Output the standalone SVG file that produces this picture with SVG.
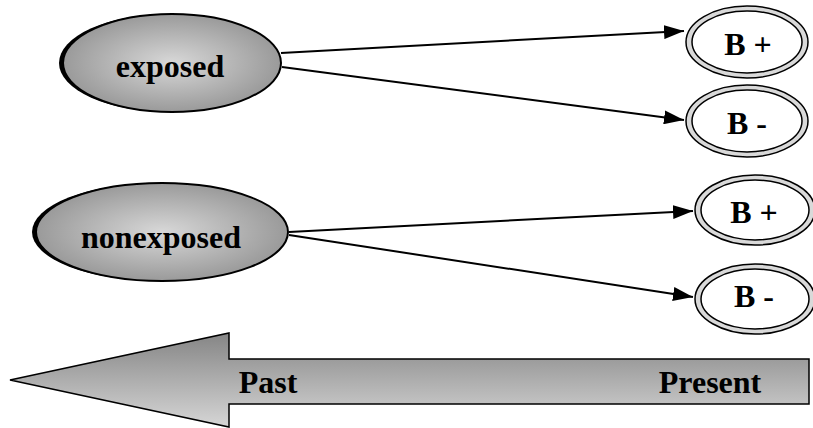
<svg xmlns="http://www.w3.org/2000/svg" width="813" height="428" viewBox="0 0 813 428">
<defs>
<radialGradient id="gEll" cx="50%" cy="50%" r="50%">
<stop offset="0" stop-color="#d8d8d8"/>
<stop offset="1" stop-color="#9a9a9a"/>
</radialGradient>
<linearGradient id="gArr" x1="0" y1="0" x2="0" y2="1">
<stop offset="0" stop-color="#858585"/>
<stop offset="1" stop-color="#d6d6d6"/>
</linearGradient>
<marker id="ah2" viewBox="0 0 20 14" refX="20" refY="7" markerWidth="20" markerHeight="14" markerUnits="userSpaceOnUse" orient="auto">
<path d="M0,0 L20,7 L0,14 z" fill="#000"/>
</marker>
</defs>
<style>
text{font-family:'Liberation Serif','Times New Roman','DejaVu Serif',serif;font-weight:bold;fill:#000;text-anchor:middle;font-size:32px}
.src{fill:url(#gEll);stroke:#000;stroke-width:2}
.shadow{fill:#000}
.outer{fill:#d9d9d9;stroke:#000;stroke-width:1.5}
.inner{fill:#fff;stroke:#000;stroke-width:1.5}
.conn{stroke:#000;stroke-width:2;fill:none;marker-end:url(#ah2)}
</style>
<g id="timeline">
<path d="M10,380 L229,333 L229,359 L809,359 L809,404 L229,404 L229,427 Z" fill="url(#gArr)" stroke="#000" stroke-width="1.5"/>
<text x="268" y="393" font-family="Liberation Serif, serif">Past</text>
<text x="710" y="393" font-family="Liberation Serif, serif">Present</text>
</g>
<g id="connectors">
<line class="conn" x1="281" y1="53" x2="684" y2="31"/>
<line class="conn" x1="282" y1="67" x2="684" y2="120"/>
<line class="conn" x1="289" y1="232" x2="693" y2="211"/>
<line class="conn" x1="289" y1="235" x2="693" y2="297"/>
</g>
<g id="exposed">
<ellipse class="shadow" cx="169" cy="63" rx="110" ry="49"/>
<ellipse class="src" cx="172" cy="63" rx="109" ry="49"/>
<text x="170" y="77" font-family="Liberation Serif, serif">exposed</text>
</g>
<g id="nonexposed">
<ellipse class="shadow" cx="159" cy="232" rx="127" ry="49"/>
<ellipse class="src" cx="162" cy="232" rx="126" ry="49"/>
<text x="161" y="248" font-family="Liberation Serif, serif">nonexposed</text>
</g>
<g id="bplus1">
<ellipse class="outer" cx="747" cy="42" rx="61" ry="36"/>
<ellipse class="inner" cx="747" cy="42" rx="55" ry="31"/>
<text x="748" y="55" font-family="Liberation Serif, serif">B +</text>
</g>
<g id="bminus1">
<ellipse class="outer" cx="747" cy="121" rx="61" ry="36"/>
<ellipse class="inner" cx="747" cy="121" rx="55" ry="31"/>
<text x="747" y="134" font-family="Liberation Serif, serif">B -</text>
</g>
<g id="bplus2">
<ellipse class="outer" cx="755" cy="210" rx="60" ry="35"/>
<ellipse class="inner" cx="755" cy="210" rx="54" ry="30"/>
<text x="754" y="223" font-family="Liberation Serif, serif">B +</text>
</g>
<g id="bminus2">
<ellipse class="outer" cx="755" cy="299" rx="60" ry="35"/>
<ellipse class="inner" cx="755" cy="299" rx="54" ry="30"/>
<text x="754" y="307" font-family="Liberation Serif, serif">B -</text>
</g>
</svg>
